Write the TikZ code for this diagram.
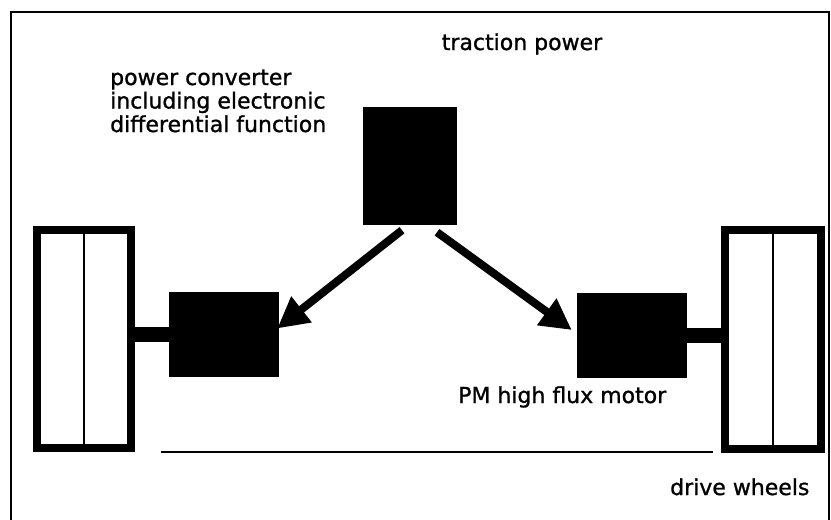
\documentclass[tikz,border=0pt]{standalone}
\usepackage{fontspec}
\setmainfont{DejaVu Sans}
\newfontfamily\lblfont[FakeBold=1]{DejaVu Sans}
\usetikzlibrary{arrows.meta}
\tikzset{
  lbl/.style={inner sep=0pt, anchor=base west, font=\lblfont\fontsize{22}{23.5}\selectfont},
  wheel/.style={draw, line width=8pt, inner sep=0pt, fill=white},
  motorbox/.style={fill=black, inner sep=0pt, minimum width=110pt, minimum height=85pt},
  convbox/.style={fill=black, inner sep=0pt, minimum width=94pt, minimum height=118pt},
  shaft/.style={line width=15pt},
  midline/.style={line width=1.2pt},
  bigarrow/.style={line width=8pt, -{Triangle[length=31pt,width=31pt]}},
  frameline/.style={line width=1.4pt}
}
\begin{document}
\begin{tikzpicture}[x=1pt,y=-1pt]
\useasboundingbox[fill=white] (0,0) rectangle (831,520);
% frame
\draw[frameline] (11,522) -- (11,12) -- (829,12) -- (829,522);
% wheels
\node[wheel, minimum width=94pt, minimum height=218pt] (lw) at (84,339) {};
\node[wheel, minimum width=96pt, minimum height=219pt] (rw) at (773,339.5) {};
\draw[midline] (lw.north) -- (lw.south);
\draw[midline] (rw.north) -- (rw.south);
% motors
\node[motorbox] (lm) at (224,334.5) {};
\node[motorbox] (rm) at (632,335) {};
% shafts
\draw[shaft] (lm.west) -- (lm.west -| lw.east);
\draw[shaft] (rm.east) -- (rm.east -| rw.west);
% converter block
\node[convbox] (blk) at (410,166) {};
% arrows
\draw[bigarrow] ([xshift=-8pt,yshift=-5pt]blk.south) -- ([xshift=-2pt,yshift=6pt]lm.east);
\draw[bigarrow] ([xshift=27pt,yshift=-7pt]blk.south) -- ([xshift=-5pt,yshift=5pt]rm.west);
% ground line
\coordinate (g1) at (161,452);
\coordinate (g2) at (713,452);
\draw[line width=1.3pt] (g1) -- (g2);
% labels
\node[lbl, anchor=base] (tp) at (522,50) {traction power};
\node[lbl, align=left] (pc) at (110,132) {power converter\\including electronic\\differential function};
\node[lbl] (pm) at (458,403) {PM high flux motor};
\node[lbl] (dw) at (670,495) {drive wheels};
\end{tikzpicture}
\end{document}
